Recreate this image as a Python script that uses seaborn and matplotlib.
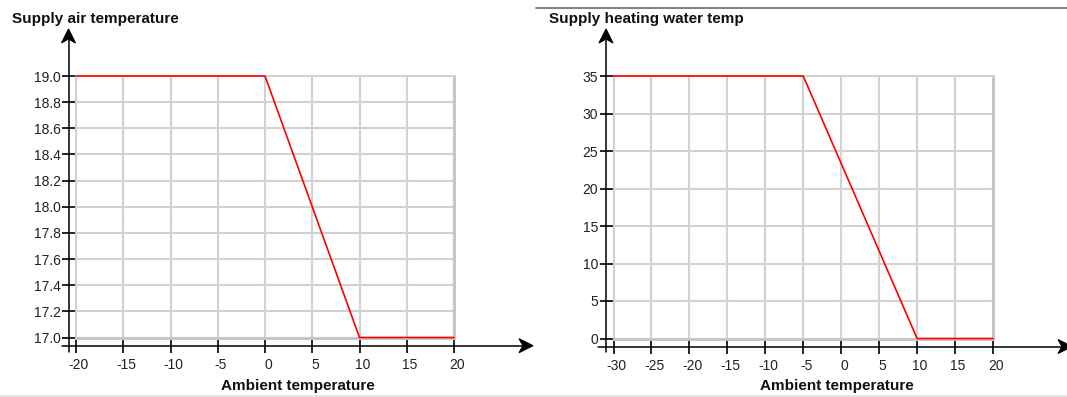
import matplotlib
matplotlib.use("Agg")
import matplotlib.pyplot as plt
from matplotlib.lines import Line2D
from matplotlib.patches import Polygon
from matplotlib.transforms import ScaledTranslation
import seaborn as sns
import pandas as pd
import numpy as np

# ---- data ----
air_x = [-20, 0, 10, 20]
air_y = [19.0, 19.0, 17.0, 17.0]
air_xticks = [-20, -15, -10, -5, 0, 5, 10, 15, 20]
air_yticks = [17.0, 17.2, 17.4, 17.6, 17.8, 18.0, 18.2, 18.4, 18.6, 18.8, 19.0]
air_title = "Supply air temperature"

water_x = [-30, -5, 10, 20]
water_y = [35, 35, 0, 0]
water_xticks = [-30, -25, -20, -15, -10, -5, 0, 5, 10, 15, 20]
water_yticks = [0, 5, 10, 15, 20, 25, 30, 35]
water_title = "Supply heating water temp"

xlabel = "Ambient temperature"

sns.set_style("white")
plt.rcParams["font.family"] = ["Liberation Sans", "DejaVu Sans"]

W, H = 1067, 397
fig = plt.figure(figsize=(W / 100, H / 100), dpi=100)


def fx(x):
    return x / W


def fy(y):
    return 1 - y / H


def vline(x, y0, y1, **kw):
    fig.add_artist(Line2D([fx(x), fx(x)], [fy(y0), fy(y1)], transform=fig.transFigure, **kw))


def hline(y, x0, x1, **kw):
    fig.add_artist(Line2D([fx(x0), fx(x1)], [fy(y), fy(y)], transform=fig.transFigure, **kw))


def up_arrow(x, yt):
    pts = [(x, yt), (x - 7, yt + 14), (x, yt + 10), (x + 7, yt + 14)]
    fig.add_artist(Polygon([(fx(a), fy(b)) for a, b in pts], closed=True,
                           transform=fig.transFigure, color="black", lw=0.8))


def right_arrow(xt, y):
    pts = [(xt, y), (xt - 14, y - 7), (xt - 10, y), (xt - 14, y + 7)]
    fig.add_artist(Polygon([(fx(a), fy(b)) for a, b in pts], closed=True,
                           transform=fig.transFigure, color="black", lw=0.8))


def panel(x0, x1, y0, y1, xs, ys, xticks, yticks, yfmt, title, title_x,
          yaxis_x, xaxis_y, xaxis_start, xarrow_tip):
    ax = fig.add_axes([fx(x0), fy(y1), (x1 - x0) / W, (y1 - y0) / H])
    df = pd.DataFrame({"x": xs, "y": ys})
    sns.lineplot(data=df, x="x", y="y", ax=ax, color="#ff0000", lw=1.2, sort=False)
    for ln in ax.lines:
        ln.set_clip_on(False)
        ln.set_zorder(5)
    ax.set_xlim(min(xticks), max(xticks))
    ax.set_ylim(min(yticks), max(yticks))
    ax.set_xticks(xticks)
    ax.set_yticks(yticks)
    ax.set_xticklabels([str(v) for v in xticks])
    ax.set_yticklabels([format(v, yfmt) for v in yticks])
    ax.set_axisbelow(True)
    ax.grid(True, color="#d2d2d2", lw=1.5)
    for side in ["top", "left"]:
        ax.spines[side].set_color("#d2d2d2")
        ax.spines[side].set_linewidth(1.5)
    for side in ["right", "bottom"]:
        ax.spines[side].set_color("#c6c6c6")
        ax.spines[side].set_linewidth(2.2)
    ax.tick_params(axis="x", bottom=True, direction="out", length=10.5, width=1.2,
                   color="black", pad=4, labelsize=10, labelcolor="#222222")
    ax.tick_params(axis="y", left=True, direction="out", length=10, width=1.2,
                   color="black", pad=1, labelsize=10, labelcolor="#222222")
    off = ScaledTranslation(3 / 100, 0, fig.dpi_scale_trans)
    for lab in ax.get_xticklabels():
        lab.set_transform(lab.get_transform() + off)
    ax.set_xlabel(xlabel, fontsize=11, fontweight="bold", color="#111111")
    ax.set_ylabel("")
    cx = (title_x[1] - x0) / (x1 - x0)
    cy = (H - 386 - (H - y1)) / (y1 - y0)
    ax.xaxis.set_label_coords(cx, cy)
    ax.xaxis.label.set_verticalalignment("center")
    fig.text(fx(title_x[0]), fy(19.5), title, fontsize=11, fontweight="bold",
             color="#111111", ha="left", va="center")
    # black axis lines with arrows
    vline(yaxis_x, 351.5, 36, color="black", lw=1.1)
    up_arrow(yaxis_x, 29)
    hline(xaxis_y, xaxis_start, xarrow_tip - 6, color="black", lw=1.1)
    right_arrow(xarrow_tip, xaxis_y)
    return ax


panel(76, 454, 76, 337.5, air_x, air_y, air_xticks, air_yticks, ".1f",
      air_title, (12, 298), 68.5, 345.7, 62, 533)
panel(613.5, 993, 76, 338.5, water_x, water_y, water_xticks, water_yticks, "d",
      water_title, (549, 837), 606, 346.5, 598, 1072)

# frame lines of the surrounding screen
hline(8.3, 536, 1067, color="#6a6a6a", lw=1.2)
hline(395.8, 0, 1067, color="#e4e4e4", lw=1.5)

fig.savefig("out.png", dpi=100)
